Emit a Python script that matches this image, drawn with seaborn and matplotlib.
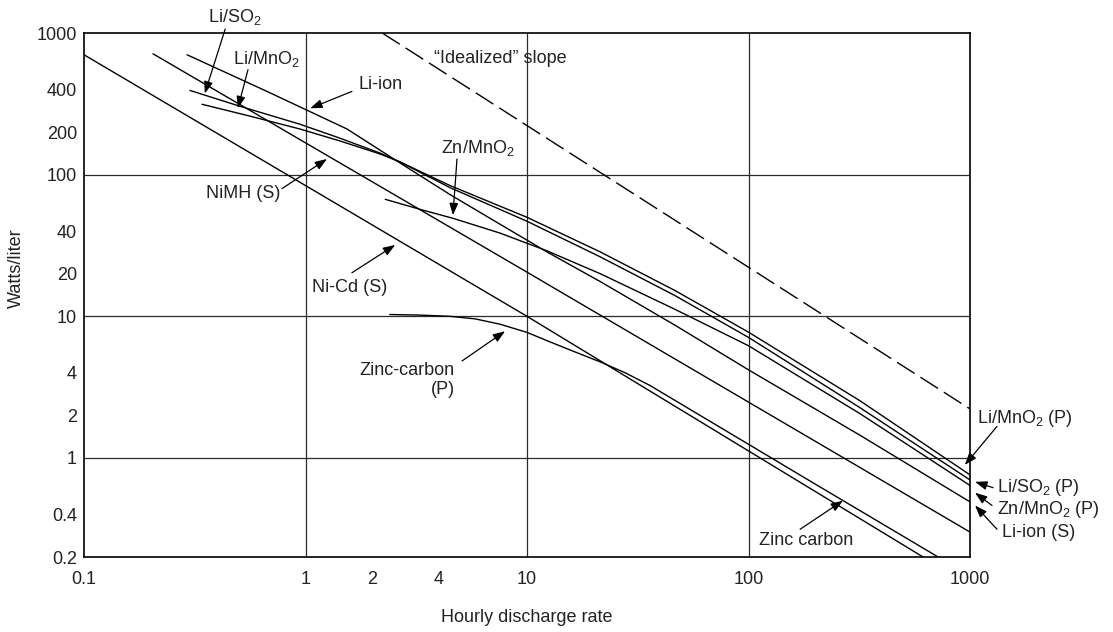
import numpy as np
import pandas as pd
import seaborn as sns
import matplotlib.pyplot as plt
import matplotlib.ticker as mticker

# --- Curves (x = hourly discharge rate, y = W/l) ---
NICD_X = [0.1, 10, 614]
NICD_Y = [702, 10, 0.2]

NIMH_X = [0.205, 10, 1000]
NIMH_Y = [713, 20.5, 0.30]

LIION_X = [0.292, 0.67, 1.54, 2.67, 4.49, 7.55, 12.3, 21.4, 46.6, 100, 318, 1000]
LIION_Y = [702, 387, 210, 121, 72.4, 44.7, 28.5, 17.6, 8.65, 4.19, 1.45, 0.49]

LISO2_X = [0.301, 0.506, 0.944, 1.43, 2.17, 2.67, 4.49, 10, 21.4, 46.6, 100, 318, 1000]
LISO2_Y = [393, 304, 227, 181, 142, 123, 81, 46.9, 26.3, 14.0, 7.1, 2.27, 0.70]

LIMNO2_X = [0.341, 0.561, 0.944, 1.43, 2.17, 2.67, 4.49, 10, 21.4, 46.6, 100, 318, 1000]
LIMNO2_Y = [314, 259, 210, 173, 140, 123, 83.8, 50, 28.5, 15.2, 7.73, 2.54, 0.76]

ZNMNO2_X = [2.29, 3.29, 4.63, 7.55, 12.3, 21.4, 46.6, 100, 318, 1000]
ZNMNO2_Y = [67, 56.9, 49.2, 38.7, 29.0, 20.0, 11.2, 6.2, 2.06, 0.64]

ZINC_X = [2.40, 3.29, 4.49, 5.82, 7.55, 10, 12.7, 16.5, 21.4, 27.7, 35.9, 60.4, 100, 195, 718]
ZINC_Y = [10.3, 10.2, 10.0, 9.6, 8.8, 7.7, 6.6, 5.6, 4.77, 4.0, 3.25, 2.0, 1.25, 0.67, 0.2]

IDEAL_X = [2.22, 1000]
IDEAL_Y = [1000, 2.22]

X_TICKS = [0.1, 1, 2, 4, 10, 100, 1000]
X_TICK_LABELS = ['0.1', '1', '2', '4', '10', '100', '1000']
Y_TICKS = [0.2, 0.4, 1, 2, 4, 10, 20, 40, 100, 200, 400, 1000]
Y_TICK_LABELS = ['0.2', '0.4', '1', '2', '4', '10', '20', '40', '100', '200', '400', '1000']
GRID_X = [1, 10, 100]
GRID_Y = [1, 10, 100]

# label, text position, arrow tail, arrow tip, horizontal alignment
ANNOTATIONS = [
    ('Li/SO$_2$', (0.481, 1294), (0.434, 1067), (0.351, 374), 'center'),
    ('Li/MnO$_2$', (0.664, 658), (0.550, 551), (0.495, 294), 'center'),
    ('Li-ion', (2.19, 433), (1.62, 387), (1.05, 294), 'center'),
    ('NiMH (S)', (0.523, 73.6), (0.784, 79.8), (1.25, 129), 'center'),
    ('Zn/MnO$_2$', (6.01, 154.5), (4.83, 129), (4.63, 51.7), 'center'),
    ('Ni-Cd (S)', (1.59, 15.9), (1.62, 20.3), (2.54, 31.9), 'center'),
    ('Zinc-carbon', (4.73, 4.12), (5.09, 4.84), (7.96, 7.85), 'right'),
    ('Zinc carbon', (182, 0.263), (171, 0.314), (267, 0.50), 'center'),
    ('Li/MnO$_2$ (P)', (1077, 1.90), (1324, 1.67), (948, 0.894), 'left'),
    ('Li/SO$_2$ (P)', (1324, 0.617), (1271, 0.617), (1054, 0.679), 'left'),
    ('Zn/MnO$_2$ (P)', (1324, 0.433), (1257, 0.462), (1054, 0.569), 'left'),
    ('Li-ion (S)', (1396, 0.299), (1324, 0.314), (1054, 0.462), 'left'),
]

FONT_SIZE = 13
LINE_WIDTH = 1.0
TEXT_COLOR = '#222222'


def build_frame():
    curves = {
        'Ni-Cd': (NICD_X, NICD_Y),
        'NiMH': (NIMH_X, NIMH_Y),
        'Li-ion': (LIION_X, LIION_Y),
        'Li/SO2': (LISO2_X, LISO2_Y),
        'Li/MnO2': (LIMNO2_X, LIMNO2_Y),
        'Zn/MnO2': (ZNMNO2_X, ZNMNO2_Y),
        'Zinc-carbon': (ZINC_X, ZINC_Y),
    }
    rows = []
    for name, (xs, ys) in curves.items():
        for x, y in zip(xs, ys):
            rows.append({'curve': name, 'rate': x, 'power': y})
    return pd.DataFrame(rows)


def main():
    sns.set_theme(style='white')
    plt.rcParams['font.family'] = ['Liberation Sans', 'DejaVu Sans']
    plt.rcParams['mathtext.fontset'] = 'custom'
    plt.rcParams['mathtext.rm'] = 'Liberation Sans'
    plt.rcParams['mathtext.it'] = 'Liberation Sans:italic'
    plt.rcParams['mathtext.default'] = 'regular'

    fig, ax = plt.subplots(figsize=(11.13, 6.32), dpi=100)
    fig.subplots_adjust(left=84 / 1113, right=970 / 1113,
                        bottom=1 - 557 / 632, top=1 - 33 / 632)

    df = build_frame()
    sns.lineplot(data=df, x='rate', y='power', units='curve', estimator=None,
                 sort=False, color='black', lw=LINE_WIDTH, ax=ax, zorder=3)

    ideal = pd.DataFrame({'rate': IDEAL_X, 'power': IDEAL_Y})
    sns.lineplot(data=ideal, x='rate', y='power', sort=False, color='black',
                 lw=LINE_WIDTH, linestyle=(0, (15, 5)), ax=ax, zorder=3)

    ax.set_xscale('log')
    ax.set_yscale('log')
    ax.set_xlim(0.1, 1000)
    ax.set_ylim(0.2, 1000)

    for gx in GRID_X:
        ax.axvline(gx, color='#2b2b2b', lw=0.9, zorder=1)
    for gy in GRID_Y:
        ax.axhline(gy, color='#2b2b2b', lw=0.9, zorder=1)

    ax.set_xticks(X_TICKS)
    ax.set_xticklabels(X_TICK_LABELS)
    ax.set_yticks(Y_TICKS)
    ax.set_yticklabels(Y_TICK_LABELS)
    ax.xaxis.set_minor_locator(mticker.NullLocator())
    ax.yaxis.set_minor_locator(mticker.NullLocator())
    ax.tick_params(axis='both', direction='in', length=8, width=0.9,
                   color='black', labelsize=FONT_SIZE, labelcolor=TEXT_COLOR)
    ax.tick_params(axis='x', pad=10)
    ax.tick_params(axis='y', pad=5)

    for spine in ax.spines.values():
        spine.set_visible(True)
        spine.set_color('black')
        spine.set_linewidth(1.2)

    ax.set_xlabel('Hourly discharge rate', fontsize=FONT_SIZE, color=TEXT_COLOR)
    ax.set_ylabel('Watts/liter', fontsize=FONT_SIZE, color=TEXT_COLOR)
    ax.xaxis.set_label_coords(0.5, -0.099)
    ax.yaxis.set_label_coords(-0.067, 0.552)

    for label, text_pos, tail, tip, ha in ANNOTATIONS:
        ax.text(text_pos[0], text_pos[1], label, fontsize=FONT_SIZE,
                ha=ha, va='center', color=TEXT_COLOR, clip_on=False)
        ax.annotate('', xy=tip, xytext=tail, annotation_clip=False,
                    arrowprops=dict(arrowstyle='-|>,head_length=0.6,head_width=0.22',
                                    color='black', lw=0.9, shrinkA=0, shrinkB=0,
                                    mutation_scale=12))

    # second line of the "Zinc-carbon (P)" label
    ax.text(4.73, 3.04, '(P)', fontsize=FONT_SIZE, ha='right', va='center',
            color=TEXT_COLOR, clip_on=False)
    ax.text(7.55, 658, '\u201cIdealized\u201d slope', fontsize=FONT_SIZE,
            ha='center', va='center', color=TEXT_COLOR, clip_on=False)

    fig.savefig('out.png', dpi=100)
    plt.close(fig)


if __name__ == "__main__":
    main()
